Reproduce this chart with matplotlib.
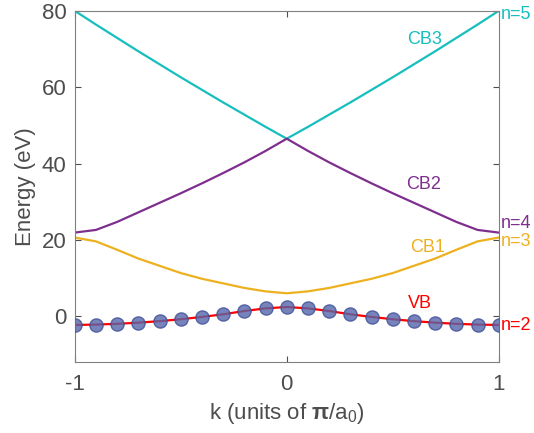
import matplotlib
matplotlib.use('Agg')
import matplotlib.pyplot as plt
import numpy as np

plt.rcParams['font.family'] = ['Liberation Sans', 'DejaVu Sans']
plt.rcParams['mathtext.fontset'] = 'custom'
plt.rcParams['mathtext.rm'] = 'Liberation Sans'
plt.rcParams['mathtext.it'] = 'Liberation Sans'
plt.rcParams['mathtext.bf'] = 'Liberation Sans:bold'

# k in units of pi/a0, sampled every 0.1 over the first Brillouin zone
k = [-1.0, -0.9, -0.8, -0.7, -0.6, -0.5, -0.4, -0.3, -0.2, -0.1, 0.0,
     0.1, 0.2, 0.3, 0.4, 0.5, 0.6, 0.7, 0.8, 0.9, 1.0]

# band energies (eV)
vb = [-2.3, -2.2, -2.0, -1.7, -1.3, -0.8, -0.2, 0.5, 1.35, 2.05, 2.4,
      2.05, 1.35, 0.5, -0.2, -0.8, -1.3, -1.7, -2.0, -2.2, -2.3]
cb1 = [20.6, 19.6, 17.4, 15.1, 13.2, 11.3, 9.8, 8.6, 7.4, 6.5, 6.0,
       6.5, 7.4, 8.6, 9.8, 11.3, 13.2, 15.1, 17.4, 19.6, 20.6]
cb2 = [21.9, 22.6, 24.7, 27.2, 29.7, 32.2, 34.8, 37.5, 40.3, 43.3, 46.5,
       43.3, 40.3, 37.5, 34.8, 32.2, 29.7, 27.2, 24.7, 22.6, 21.9]
cb3 = [80.0, 76.4, 72.9, 69.4, 66.0, 62.6, 59.3, 56.0, 52.8, 49.6, 46.5,
       49.6, 52.8, 56.0, 59.3, 62.6, 66.0, 69.4, 72.9, 76.4, 80.0]

band_names = ['CB3', 'CB2', 'CB1', 'VB']
band_colors = ['#17BEBE', '#7E2F8E', '#EDB120', '#FF0000']
band_label_pos = [(0.65, 72.4), (0.646, 34.5), (0.665, 18.0), (0.627, 3.3)]

n_labels = ['n=5', 'n=4', 'n=3', 'n=2']
n_label_y = [79.0, 24.3, 19.6, -2.4]

fig = plt.figure(figsize=(5.34, 4.33), dpi=100)
ax = fig.add_axes([0.140, 0.164, 0.794, 0.811])

bands = [cb3, cb2, cb1, vb]
for e, c in zip(bands, band_colors):
    ax.plot(k, e, color=c, lw=1.6, zorder=2)

# sampled valence band points
ax.plot(k, vb, 'o', ms=9.5, mfc='#5566AA', mec='#3F4F95', mew=1.0, alpha=0.8, zorder=3)

for name, c, (x, y) in zip(band_names, band_colors, band_label_pos):
    ax.text(x, y, name, color=c, fontsize=13, ha='center', va='center')

for lab, c, y in zip(n_labels, band_colors, n_label_y):
    ax.text(1.01, y, lab, color=c, fontsize=13, ha='left', va='center', clip_on=False)

ax.set_xlim(-1, 1)
ax.set_ylim(-12, 80)
ax.set_xticks([-1, 0, 1])
ax.set_xticklabels(['-1', '0', '1'])
ax.set_yticks([0, 20, 40, 60, 80])
ax.tick_params(direction='in', length=4, top=True, right=True, labelsize=16,
               colors='#4D4D4D')
ax.tick_params(axis='x', pad=9)
ax.tick_params(axis='y', pad=6)
for sp in ax.spines.values():
    sp.set_color('#808080')
    sp.set_linewidth(0.8)

ax.set_xlabel(r'k (units of $\mathbf{\pi}$/a$_0$)', fontsize=16, color='#4D4D4D', labelpad=4)
ax.set_ylabel('Energy (eV)', fontsize=16, color='#4D4D4D', labelpad=4)

fig.savefig('out.png', dpi=100)
